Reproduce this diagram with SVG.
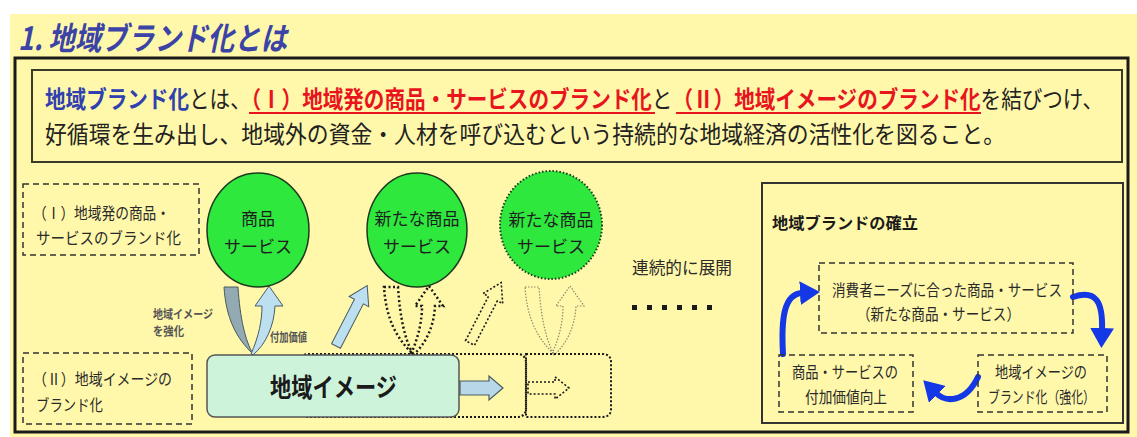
<svg xmlns="http://www.w3.org/2000/svg" width="1137" height="437" viewBox="0 0 1137 437">
<style>
.jp{font-family:"Noto Sans CJK JP","Noto Sans CJK SC",sans-serif}
.lbl{font-size:16px;fill:#2a2a2a}
.sm{font-size:12px;fill:#555;font-weight:bold}
.circ{font-size:17px;fill:#1e1e1e;text-anchor:middle}
.dash{fill:none;stroke:#333;stroke-width:1.5;stroke-dasharray:6 4}
.dotb{fill:none;stroke:#1a1a1a;stroke-width:2.5;stroke-dasharray:2 2.5}
.dotf{fill:none;stroke:#8a8a70;stroke-width:1.2;stroke-dasharray:1.5 1.5}
.blue{fill:none;stroke:#1538E6;stroke-width:6;stroke-linecap:round}
.red{fill:#E8141E;font-weight:bold}
</style>
<defs>
<marker id="bh" markerUnits="userSpaceOnUse" markerWidth="22" markerHeight="24" refX="2" refY="12" orient="auto">
<path d="M0,0 L20,12 L0,24 Z" fill="#1538E6"/>
</marker>
<path id="uL" d="M224,287 L238,287 C240,318 245,340 253,354 C236,338 226,318 224,287 Z"/>
<path id="uR" d="M251,354 C259,336 262,320 262,306 L255,306 L269,286 L283,306 L275,306 C274,326 266,344 253,355 Z"/>
<polygon id="diag" points="0,-5 50,-5 50,-11 68,0 50,11 50,5 0,5"/>
</defs>
<rect x="0" y="0" width="1137" height="437" fill="#ffffff"/>
<rect x="10" y="14" width="1127" height="423" fill="#FFF8AA"/>
<text id="title" class="jp" x="18" y="50" font-size="32" font-weight="bold" font-style="italic" fill="#3B44A6" textLength="269" lengthAdjust="spacingAndGlyphs">1. 地域ブランド化とは</text>
<rect x="15" y="58" width="1113" height="374" fill="none" stroke="#1a1a1a" stroke-width="3"/>
<g id="definition">
<rect x="32" y="70" width="1090" height="92" fill="#FFF8AA" stroke="#3a3a2a" stroke-width="2"/>
<text class="jp" transform="translate(45,108) scale(1,1.16)" x="0" y="0" font-size="20.3" fill="#222" textLength="1058" lengthAdjust="spacingAndGlyphs"><tspan font-weight="bold" fill="#3040B0">地域ブランド化</tspan>とは、<tspan class="red">（Ⅰ）地域発の商品・サービスのブランド化</tspan>と<tspan class="red">（Ⅱ）地域イメージのブランド化</tspan>を結びつけ、</text>
<line x1="249" y1="113" x2="655" y2="113" stroke="#E8141E" stroke-width="2"/>
<line x1="676" y1="113" x2="981" y2="113" stroke="#E8141E" stroke-width="2"/>
<text class="jp" transform="translate(45,143) scale(1,1.1)" x="0" y="0" font-size="21.8" fill="#222" textLength="960" lengthAdjust="spacingAndGlyphs">好循環を生み出し、地域外の資金・人材を呼び込むという持続的な地域経済の活性化を図ること。</text>
</g>
<g id="box1">
<rect class="dash" x="23" y="184" width="176" height="71"/>
<text class="jp lbl" x="33" y="219" textLength="137" lengthAdjust="spacingAndGlyphs">（Ⅰ）地域発の商品・</text>
<text class="jp lbl" x="36" y="244" textLength="145" lengthAdjust="spacingAndGlyphs">サービスのブランド化</text>
</g>
<g id="box2">
<rect class="dash" x="23" y="353" width="169" height="71"/>
<text class="jp lbl" x="33" y="385" textLength="139" lengthAdjust="spacingAndGlyphs">（Ⅱ）地域イメージの</text>
<text class="jp lbl" x="36" y="411" textLength="67" lengthAdjust="spacingAndGlyphs">ブランド化</text>
</g>
<g id="connectors">
<use href="#uL" fill="#93AAB2" stroke="#4a5a60" stroke-width="1"/>
<use href="#uR" fill="#BDE0F0" stroke="#4a5a66" stroke-width="1"/>
<use href="#diag" transform="translate(336,346) rotate(-62.7)" fill="#BDE0F0" stroke="#4a5a66" stroke-width="1"/>
<use href="#uL" transform="translate(160,0)" class="dotb"/>
<use href="#uR" transform="translate(160,0)" class="dotb"/>
<use href="#diag" transform="translate(470,343) rotate(-62.7)" fill="none" stroke="#1a1a1a" stroke-width="1.6" stroke-dasharray="2 2"/>
<use href="#uL" transform="translate(301,0)" class="dotf"/>
<use href="#uR" transform="translate(301,0)" class="dotf"/>
<path class="blue" d="M783,354 C781,318 784,294 802,293" marker-end="url(#bh)"/>
<path class="blue" d="M1073,297 C1096,289 1103,302 1102,330" marker-end="url(#bh)"/>
<path class="blue" d="M978,377 C965,404 945,402 936,393" marker-end="url(#bh)"/>
</g>
<g id="image-ext">
<rect x="300" y="354" width="226" height="63" rx="8" fill="none" stroke="#1a1a1a" stroke-width="2.2" stroke-dasharray="2 2"/>
<path d="M526,354 L602,354 Q611,354 611,362 L611,409 Q611,417 602,417 L526,417 Z" fill="none" stroke="#1a1a1a" stroke-width="2" stroke-dasharray="2 2"/>
<polygon points="460,381 489,381 489,376 503,388 489,400 489,395 460,395" fill="#B8D8E8" stroke="#4a5a66" stroke-width="1.2"/>
<polygon points="528,382 555,382 555,377 569,388 555,399 555,394 528,394" fill="none" stroke="#1a1a1a" stroke-width="1.6" stroke-dasharray="2 2"/>
</g>
<g id="region-image">
<rect x="207" y="355" width="252" height="62" rx="8" fill="#CDF3DA" stroke="#555" stroke-width="1.5"/>
<text class="jp" x="270" y="397" font-size="26" font-weight="bold" fill="#1a1a1a" textLength="127" lengthAdjust="spacingAndGlyphs">地域イメージ</text>
</g>
<g id="labels-small">
<text class="jp sm" x="153" y="319" textLength="60" lengthAdjust="spacingAndGlyphs">地域イメージ</text>
<text class="jp sm" x="153" y="336" textLength="31" lengthAdjust="spacingAndGlyphs">を強化</text>
<text class="jp sm" x="270" y="342" textLength="37" lengthAdjust="spacingAndGlyphs">付加価値</text>
</g>
<g id="circle1">
<ellipse cx="258" cy="230" rx="51" ry="57" fill="#2EE83E" stroke="#1e3a1e" stroke-width="1.5"/>
<text class="jp circ" x="258" y="225" font-size="18">商品</text>
<text class="jp circ" x="258" y="253" font-size="18">サービス</text>
</g>
<g id="circle2">
<ellipse cx="417" cy="230" rx="50" ry="57" fill="#2EE83E" stroke="#1e3a1e" stroke-width="1.5"/>
<text class="jp circ" x="417" y="225">新たな商品</text>
<text class="jp circ" x="417" y="253">サービス</text>
</g>
<g id="circle3">
<ellipse cx="551" cy="225" rx="51" ry="54" fill="#2EE83E" stroke="#1e3a1e" stroke-width="2" stroke-dasharray="1.5 2"/>
<text class="jp circ" x="551" y="226">新たな商品</text>
<text class="jp circ" x="551" y="253">サービス</text>
</g>
<g id="continue">
<text class="jp" x="632" y="274" font-size="17" fill="#2a2a2a" textLength="100" lengthAdjust="spacingAndGlyphs">連続的に展開</text>
<g fill="#1a1a1a">
<rect x="632" y="305" width="5" height="5"/><rect x="647" y="305" width="5" height="5"/><rect x="662" y="305" width="5" height="5"/>
<rect x="677" y="305" width="5" height="5"/><rect x="692" y="305" width="5" height="5"/><rect x="707" y="305" width="5" height="5"/>
</g>
</g>
<g id="brand-panel">
<rect x="762" y="183" width="361" height="240" fill="none" stroke="#333" stroke-width="2"/>
<text class="jp" x="772" y="229" font-size="16" font-weight="bold" fill="#1a1a1a" textLength="146" lengthAdjust="spacingAndGlyphs">地域ブランドの確立</text>
</g>
<g id="needs">
<rect class="dash" x="819" y="263" width="254" height="70"/>
<text class="jp lbl" x="832" y="296" textLength="230" lengthAdjust="spacingAndGlyphs">消費者ニーズに合った商品・サービス</text>
<text class="jp lbl" x="857" y="320" textLength="163" lengthAdjust="spacingAndGlyphs">（新たな商品・サービス）</text>
</g>
<g id="value-up">
<rect class="dash" x="779" y="355" width="134" height="57"/>
<text class="jp lbl" x="792" y="378" textLength="106" lengthAdjust="spacingAndGlyphs">商品・サービスの</text>
<text class="jp lbl" x="805" y="403" textLength="82" lengthAdjust="spacingAndGlyphs">付加価値向上</text>
</g>
<g id="image-brand">
<rect class="dash" x="978" y="355" width="129" height="57"/>
<text class="jp lbl" x="995" y="378" textLength="92" lengthAdjust="spacingAndGlyphs">地域イメージの</text>
<text class="jp lbl" x="988" y="403" textLength="107" lengthAdjust="spacingAndGlyphs">ブランド化（強化）</text>
</g>
</svg>
